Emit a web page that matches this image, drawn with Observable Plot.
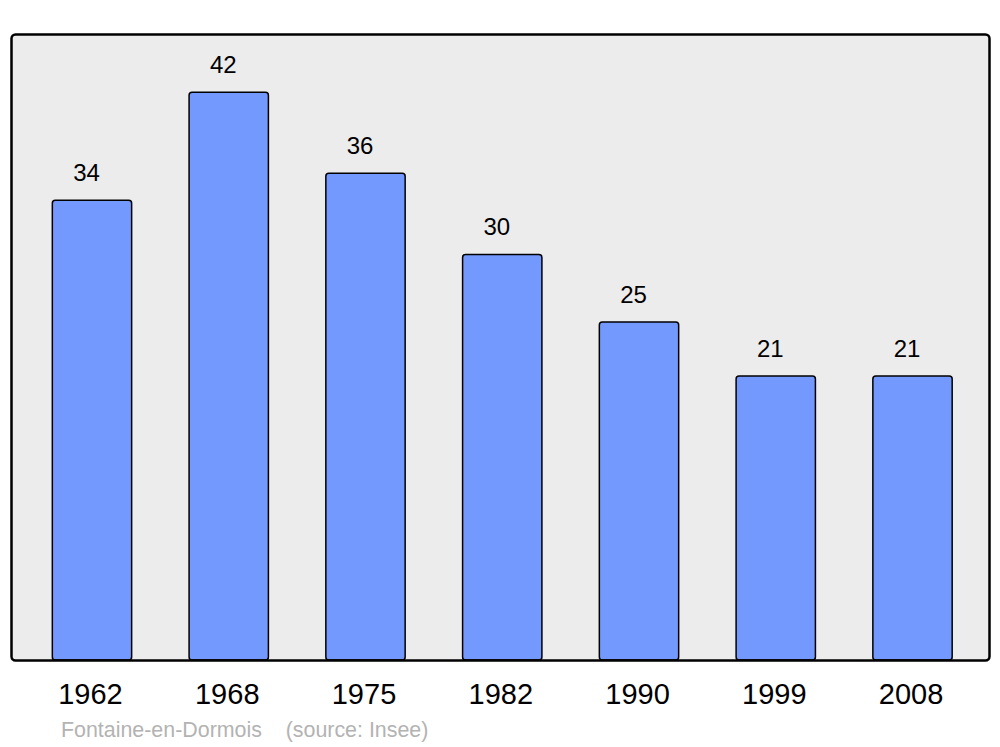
<!DOCTYPE html>
<html>
<head>
<meta charset="utf-8">
<script src="https://cdn.jsdelivr.net/npm/d3@7"></script>
<script src="https://cdn.jsdelivr.net/npm/@observablehq/plot@0.6"></script>
<style>
  html, body { margin: 0; padding: 0; background: #ffffff; }
  #chart { width: 1000px; height: 747px; position: relative; font-family: "Liberation Sans", Arial, sans-serif; }
  #caption { height: 37px; line-height: 40px; padding-left: 61px; font-size: 21.4px; color: #b3b3b3; white-space: pre; font-family: "Liberation Sans", Arial, sans-serif; }
</style>
</head>
<body>
<div id="chart"></div>
<script>
const years = ["1962", "1968", "1975", "1982", "1990", "1999", "2008"];
const population = [34, 42, 36, 30, 25, 21, 21];
const captionText = "Fontaine-en-Dormois    (source: Insee)";

const data = years.map((y, i) => ({year: y, value: population[i]}));

const plot = Plot.plot({
  width: 1000,
  height: 710,
  marginTop: 34,
  marginBottom: 50,
  marginLeft: 11,
  marginRight: 11,
  style: {fontFamily: "'Liberation Sans', Arial, sans-serif", background: "transparent"},
  x: {domain: years, range: [11.3, 993.2], paddingInner: 0.42, paddingOuter: 0.3, round: false, axis: null},
  y: {domain: [0, 46.3], axis: null},
  marks: [
    Plot.frame({fill: "#ececec", stroke: "none"}),
    Plot.barY(data, {x: "year", y: "value", fill: "#7399ff", stroke: "#000000", strokeWidth: 1.5, rx: 3}),
    Plot.text(data, {x: "year", y: "value", text: d => String(d.value), dy: -27.5, dx: -6, fontSize: 24, fill: "#000000"}),
    Plot.text(data, {x: "year", text: "year", frameAnchor: "bottom", dy: 43, dx: -2, fontSize: 29, fill: "#000000"}),
    Plot.frame({stroke: "#000000", strokeWidth: 2.5, rx: 4, fill: "none"})
  ]
});
document.getElementById("chart").appendChild(plot);
const cap = document.createElement("div");
cap.id = "caption";
cap.textContent = captionText;
document.getElementById("chart").appendChild(cap);
</script>
</body>
</html>
